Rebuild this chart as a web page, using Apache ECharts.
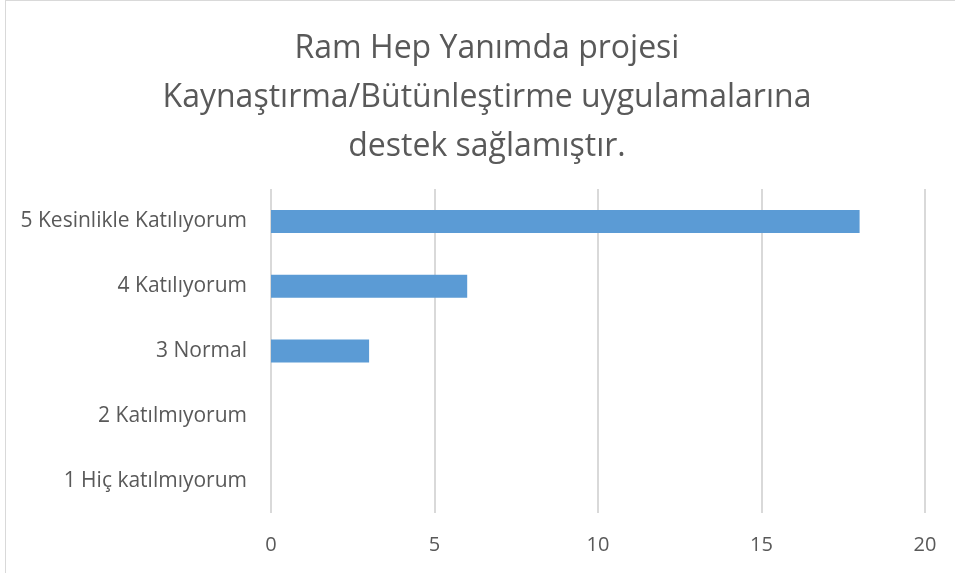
<!DOCTYPE html>
<html lang="tr">
<head>
    <meta charset="UTF-8">
    <title>Ram Hep Yanımda</title>
    <script src="https://cdn.jsdelivr.net/npm/echarts@6.0.0/dist/echarts.min.js"></script>
    <style>
        body {
            margin: 0;
            background: #fff;
            overflow: hidden;
        }
        #frame {
            position: absolute;
            left: 5px;
            top: 0;
            width: 1000px;
            height: 600px;
            border: 1px solid #d9d9d9;
        }
        #chart {
            position: absolute;
            left: 0;
            top: 0;
            width: 955px;
            height: 573px;
        }
    </style>
</head>
<body>
    <div id="frame"></div>
    <div id="chart"></div>

    <script>
        var titleText = 'Ram Hep Yanımda projesi\nKaynaştırma/Bütünleştirme uygulamalarına\ndestek sağlamıştır.';
        var categories = ['1 Hiç katılmıyorum', '2 Katılmıyorum', '3 Normal', '4 Katılıyorum', '5 Kesinlikle Katılıyorum'];
        var counts = [0, 0, 3, 6, 18];
        var xTicks = [0, 5, 10, 15, 20];

        var chart = echarts.init(document.getElementById('chart'));

        var option = {
            animation: false,
            title: {
                text: titleText,
                left: 482,
                textAlign: 'center',
                top: 19,
                textStyle: {
                    fontFamily: 'Open Sans',
                    fontSize: 32,
                    fontWeight: 'normal',
                    color: '#595959',
                    lineHeight: 49
                }
            },
            grid: {
                left: 271,
                right: 30,
                top: 189,
                bottom: 60,
                containLabel: false
            },
            xAxis: {
                type: 'value',
                min: xTicks[0],
                max: xTicks[xTicks.length - 1],
                interval: 5,
                axisLine: { show: false },
                axisTick: { show: false },
                axisLabel: {
                    margin: 22,
                    fontFamily: 'Open Sans',
                    fontSize: 20,
                    color: '#595959'
                },
                splitLine: {
                    lineStyle: { color: '#d9d9d9', width: 2 }
                }
            },
            yAxis: {
                type: 'category',
                data: categories,
                axisLine: { show: false },
                axisTick: { show: false },
                axisLabel: {
                    margin: 24,
                    fontFamily: 'Open Sans',
                    fontSize: 21,
                    color: '#595959'
                }
            },
            series: [{
                type: 'bar',
                data: counts,
                barWidth: 23,
                itemStyle: { color: '#5b9bd5' }
            }]
        };

        chart.setOption(option);
    </script>
</body>
</html>
